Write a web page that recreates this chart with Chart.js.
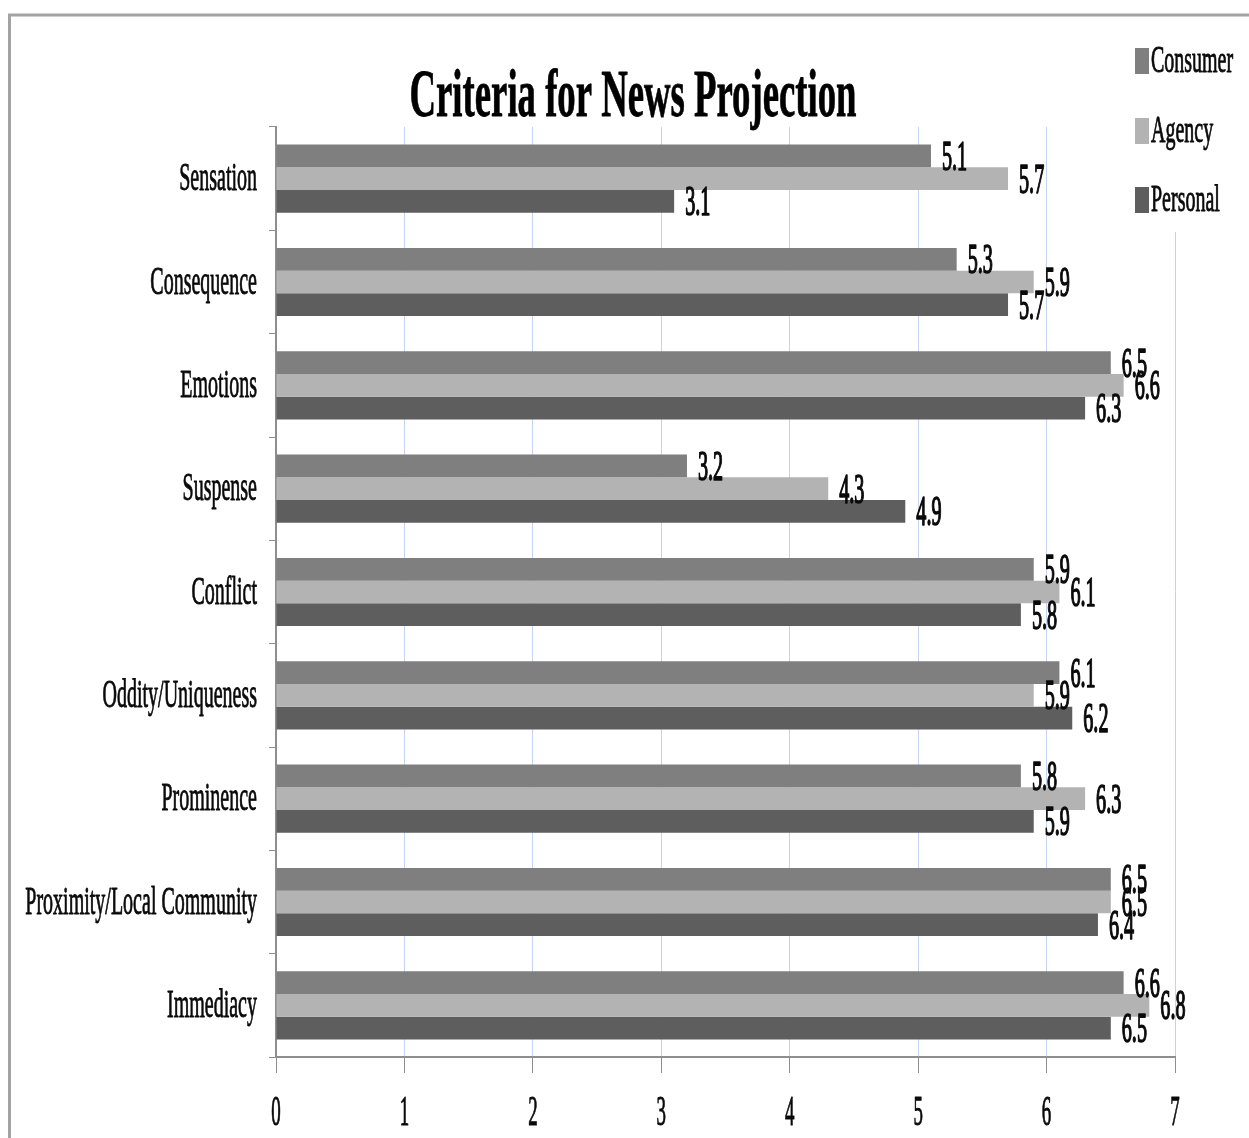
<!DOCTYPE html>
<html>
<head>
<meta charset="utf-8">
<title>Criteria for News Projection</title>
<script src="https://cdn.jsdelivr.net/npm/chart.js@4.4.1/dist/chart.umd.min.js"></script>
<style>
  html, body { margin: 0; padding: 0; background: #ffffff; }
  #wrap { position: relative; width: 1249px; height: 1138px; }
  canvas { display: block; }
</style>
</head>
<body>
<div id="wrap"><canvas id="chart" width="1249" height="1138"></canvas></div>
<script>
// Survey criteria, top to bottom
const categories = [
  'Sensation', 'Consequence', 'Emotions', 'Suspense', 'Conflict',
  'Oddity/Uniqueness', 'Prominence', 'Proximity/Local Community', 'Immediacy'
];
const seriesNames = ['Consumer', 'Agency', 'Personal'];
const consumer = [5.1, 5.3, 6.5, 3.2, 5.9, 6.1, 5.8, 6.5, 6.6];
const agency   = [5.7, 5.9, 6.6, 4.3, 6.1, 5.9, 6.3, 6.5, 6.8];
const personal = [3.1, 5.7, 6.3, 4.9, 5.8, 6.2, 5.9, 6.4, 6.5];
const xTickValues = [0, 1, 2, 3, 4, 5, 6, 7];
const chartTitle = 'Criteria for News Projection';

const colors = ['#7f7f7f', '#b3b3b3', '#5e5e5e'];
const FONT = '"Liberation Serif", "DejaVu Serif", serif';

// Draw text squeezed horizontally (narrow serif look), optionally thickened
function narrowText(ctx, text, x, y, font, sx, align, baseline, color, weight) {
  ctx.save();
  ctx.font = font;
  ctx.fillStyle = color || '#000';
  ctx.strokeStyle = color || '#000';
  ctx.textAlign = align;
  ctx.textBaseline = baseline;
  ctx.translate(x, y);
  ctx.scale(sx, 1);
  ctx.fillText(text, 0, 0);
  if (weight) {
    ctx.lineWidth = weight;
    ctx.lineJoin = 'round';
    ctx.strokeText(text, 0, 0);
  }
  ctx.restore();
}

const textPlugin = {
  id: 'narrowLabels',
  beforeDraw(chart) {
    const ctx = chart.ctx;
    // outer frame (top and left edges)
    ctx.save();
    ctx.strokeStyle = '#a3a3a3';
    ctx.lineWidth = 3;
    ctx.beginPath();
    ctx.moveTo(9.5, 1138);
    ctx.lineTo(9.5, 15);
    ctx.lineTo(1249, 15);
    ctx.stroke();
    ctx.restore();
  },
  afterDraw(chart) {
    const ctx = chart.ctx;
    const xs = chart.scales.x;
    const ys = chart.scales.y;

    // category labels
    categories.forEach((c, i) => {
      const y = ys.getPixelForValue(i);
      narrowText(ctx, c, 257, y + 1, '40px ' + FONT, 0.5, 'right', 'middle', '#0a0a0a', 0.9);
    });

    // value axis labels
    xTickValues.forEach(v => {
      const x = xs.getPixelForValue(v);
      narrowText(ctx, String(v), x, 1114, '42px ' + FONT, 0.45, 'center', 'middle', '#0a0a0a', 1.0);
    });

    // value labels at bar ends
    chart.data.datasets.forEach((ds, di) => {
      const meta = chart.getDatasetMeta(di);
      meta.data.forEach((bar, i) => {
        narrowText(ctx, ds.data[i].toFixed(1), bar.x + 11, bar.y + 3,
          '42px ' + FONT, 0.48, 'left', 'middle', '#0a0a0a', 1.6);
      });
    });

    // legend block in the top-right corner
    ctx.save();
    ctx.fillStyle = '#ffffff';
    ctx.fillRect(1128, 36, 121, 196);
    ctx.restore();
    const legendY = [62, 132, 201];
    seriesNames.forEach((name, i) => {
      const cy = legendY[i];
      ctx.save();
      ctx.fillStyle = colors[i];
      ctx.fillRect(1135, cy - 14, 14, 26);
      ctx.restore();
      narrowText(ctx, name, 1151, cy, '37px ' + FONT, 0.54, 'left', 'middle', '#0a0a0a', 0.9);
    });

    // title
    narrowText(ctx, chartTitle, 633, 116, 'bold 68px ' + FONT, 0.54, 'center', 'alphabetic', '#000', 0.8);
  }
};

new Chart(document.getElementById('chart'), {
  type: 'bar',
  data: {
    labels: categories,
    datasets: [
      { label: seriesNames[0], data: consumer, backgroundColor: colors[0] },
      { label: seriesNames[1], data: agency,   backgroundColor: colors[1] },
      { label: seriesNames[2], data: personal, backgroundColor: colors[2] }
    ]
  },
  options: {
    indexAxis: 'y',
    responsive: false,
    animation: false,
    devicePixelRatio: 1,
    layout: { padding: { left: 269, right: 74, top: 127, bottom: 65 } },
    datasets: { bar: { categoryPercentage: 0.66, barPercentage: 1.0, borderWidth: 0 } },
    plugins: {
      legend: { display: false },
      title: { display: false },
      tooltip: { enabled: false }
    },
    scales: {
      x: {
        min: 0,
        max: 7,
        ticks: { display: false, stepSize: 1 },
        grid: { color: '#c6d3ee', lineWidth: 1, tickColor: '#8e8e8e', tickLength: 16, drawTicks: true },
        border: { display: true, color: '#8e8e8e', width: 2 }
      },
      y: {
        ticks: { display: false },
        grid: { drawOnChartArea: false, drawTicks: true, tickLength: 7, tickColor: '#8e8e8e', offset: true },
        border: { display: true, color: '#8e8e8e', width: 2 }
      }
    }
  },
  plugins: [textPlugin]
});
</script>
</body>
</html>
